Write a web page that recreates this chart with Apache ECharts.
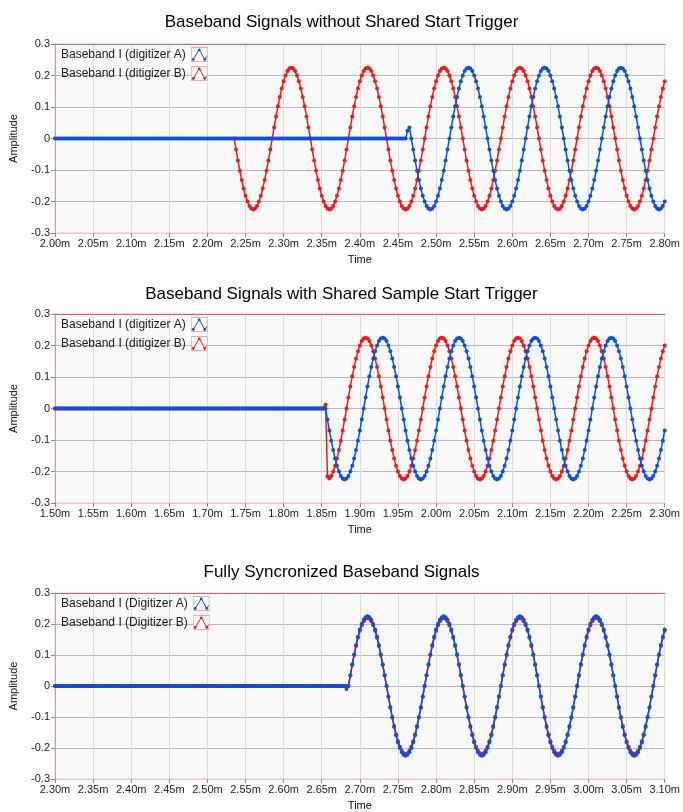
<!DOCTYPE html>
<html><head><meta charset="utf-8">
<script src="https://cdn.jsdelivr.net/npm/echarts@6/dist/echarts.min.js"></script>
<style>html,body{margin:0;padding:0;background:#fff}#c{width:683px;height:812px}</style>
</head><body><div id="c"></div><script>
// ---------- data ----------
const SAMPLE_STEP = 0.0025; // ms between samples
const titles = [
  'Baseband Signals without Shared Start Trigger',
  'Baseband Signals with Shared Sample Start Trigger',
  'Fully Syncronized Baseband Signals'
];
const namesA = ['Baseband I (digitizer A)', 'Baseband I (digitizer A)', 'Baseband I (Digitizer A)'];
const namesB = ['Baseband I (ditigizer B)', 'Baseband I (ditigizer B)', 'Baseband I (Digitizer B)'];
const xMins = [2.00, 1.50, 2.30];
const xMaxs = [2.80, 2.30, 3.10];
const xTickStep = 0.05;
const yTickStep = 0.1;
const yMin = -0.3, yMax = 0.3;

// Chart 1 - digitizer A : flat part from 2.00, wave from 2.4625
const c1AFlatStart = 2.00;
const c1AFlat = [
0,0,0,0,0,0,0,0,0,0, 0,0,0,0,0,0,0,0,0,0, 0,0,0,0,0,0,0,0,0,0, 0,0,0,0,0,0,0,0,0,0,
0,0,0,0,0,0,0,0,0,0, 0,0,0,0,0,0,0,0,0,0, 0,0,0,0,0,0,0,0,0,0, 0,0,0,0,0,0,0,0,0,0,
0,0,0,0,0,0,0,0,0,0, 0,0,0,0,0,0,0,0,0,0, 0,0,0,0,0,0,0,0,0,0, 0,0,0,0,0,0,0,0,0,0,
0,0,0,0,0,0,0,0,0,0, 0,0,0,0,0,0,0,0,0,0, 0,0,0,0,0,0,0,0,0,0, 0,0,0,0,0,0,0,0,0,0,
0,0,0,0,0,0,0,0,0,0, 0,0,0,0,0,0,0,0,0,0, 0,0,0,0,0
];
const c1AWaveStart = 2.4625;
const c1AWave = [
0.025, 0.035,
0, -0.035, -0.07, -0.102, -0.132, -0.159, -0.182, -0.2, -0.214, -0.222, -0.225, -0.222, -0.214, -0.2, -0.182, -0.159, -0.132, -0.102, -0.07, -0.035, 0, 0.035, 0.07, 0.102, 0.132, 0.159, 0.182, 0.2, 0.214, 0.222, 0.225, 0.222, 0.214, 0.2, 0.182, 0.159, 0.132, 0.102, 0.07, 0.035,
0, -0.035, -0.07, -0.102, -0.132, -0.159, -0.182, -0.2, -0.214, -0.222, -0.225, -0.222, -0.214, -0.2, -0.182, -0.159, -0.132, -0.102, -0.07, -0.035, 0, 0.035, 0.07, 0.102, 0.132, 0.159, 0.182, 0.2, 0.214, 0.222, 0.225, 0.222, 0.214, 0.2, 0.182, 0.159, 0.132, 0.102, 0.07, 0.035,
0, -0.035, -0.07, -0.102, -0.132, -0.159, -0.182, -0.2, -0.214, -0.222, -0.225, -0.222, -0.214, -0.2, -0.182, -0.159, -0.132, -0.102, -0.07, -0.035, 0, 0.035, 0.07, 0.102, 0.132, 0.159, 0.182, 0.2, 0.214, 0.222, 0.225, 0.222, 0.214, 0.2, 0.182, 0.159, 0.132, 0.102, 0.07, 0.035,
0, -0.035, -0.07, -0.102, -0.132, -0.159, -0.182, -0.2, -0.214, -0.222, -0.225, -0.222, -0.214, -0.2
];
// Chart 1 - digitizer B : wave from 2.235
const c1BWaveStart = 2.235;
const c1BWave = [
0, -0.035, -0.07, -0.102, -0.132, -0.159, -0.182, -0.2, -0.214, -0.222, -0.225, -0.222, -0.214, -0.2, -0.182, -0.159, -0.132, -0.102, -0.07, -0.035, 0, 0.035, 0.07, 0.102, 0.132, 0.159, 0.182, 0.2, 0.214, 0.222, 0.225, 0.222, 0.214, 0.2, 0.182, 0.159, 0.132, 0.102, 0.07, 0.035,
0, -0.035, -0.07, -0.102, -0.132, -0.159, -0.182, -0.2, -0.214, -0.222, -0.225, -0.222, -0.214, -0.2, -0.182, -0.159, -0.132, -0.102, -0.07, -0.035, 0, 0.035, 0.07, 0.102, 0.132, 0.159, 0.182, 0.2, 0.214, 0.222, 0.225, 0.222, 0.214, 0.2, 0.182, 0.159, 0.132, 0.102, 0.07, 0.035,
0, -0.035, -0.07, -0.102, -0.132, -0.159, -0.182, -0.2, -0.214, -0.222, -0.225, -0.222, -0.214, -0.2, -0.182, -0.159, -0.132, -0.102, -0.07, -0.035, 0, 0.035, 0.07, 0.102, 0.132, 0.159, 0.182, 0.2, 0.214, 0.222, 0.225, 0.222, 0.214, 0.2, 0.182, 0.159, 0.132, 0.102, 0.07, 0.035,
0, -0.035, -0.07, -0.102, -0.132, -0.159, -0.182, -0.2, -0.214, -0.222, -0.225, -0.222, -0.214, -0.2, -0.182, -0.159, -0.132, -0.102, -0.07, -0.035, 0, 0.035, 0.07, 0.102, 0.132, 0.159, 0.182, 0.2, 0.214, 0.222, 0.225, 0.222, 0.214, 0.2, 0.182, 0.159, 0.132, 0.102, 0.07, 0.035,
0, -0.035, -0.07, -0.102, -0.132, -0.159, -0.182, -0.2, -0.214, -0.222, -0.225, -0.222, -0.214, -0.2, -0.182, -0.159, -0.132, -0.102, -0.07, -0.035, 0, 0.035, 0.07, 0.102, 0.132, 0.159, 0.182, 0.2, 0.214, 0.222, 0.225, 0.222, 0.214, 0.2, 0.182, 0.159, 0.132, 0.102, 0.07, 0.035,
0, -0.035, -0.07, -0.102, -0.132, -0.159, -0.182, -0.2, -0.214, -0.222, -0.225, -0.222, -0.214, -0.2, -0.182, -0.159, -0.132, -0.102, -0.07, -0.035, 0, 0.035, 0.07, 0.102, 0.132, 0.159, 0.182
];

// Chart 2 - digitizer A : flat from 1.50, wave from 1.855
const c2AFlatStart = 1.50;
const c2AFlat = [
0,0,0,0,0,0,0,0,0,0, 0,0,0,0,0,0,0,0,0,0, 0,0,0,0,0,0,0,0,0,0, 0,0,0,0,0,0,0,0,0,0,
0,0,0,0,0,0,0,0,0,0, 0,0,0,0,0,0,0,0,0,0, 0,0,0,0,0,0,0,0,0,0, 0,0,0,0,0,0,0,0,0,0,
0,0,0,0,0,0,0,0,0,0, 0,0,0,0,0,0,0,0,0,0, 0,0,0,0,0,0,0,0,0,0, 0,0,0,0,0,0,0,0,0,0,
0,0,0,0,0,0,0,0,0,0, 0,0,0,0,0,0,0,0,0,0, 0,0
];
const c2AWaveStart = 1.855;
const c2AWave = [
0, -0.035, -0.07, -0.102, -0.132, -0.159, -0.182, -0.2, -0.214, -0.222, -0.225, -0.222, -0.214, -0.2, -0.182, -0.159, -0.132, -0.102, -0.07, -0.035, 0, 0.035, 0.07, 0.102, 0.132, 0.159, 0.182, 0.2, 0.214, 0.222, 0.225, 0.222, 0.214, 0.2, 0.182, 0.159, 0.132, 0.102, 0.07, 0.035,
0, -0.035, -0.07, -0.102, -0.132, -0.159, -0.182, -0.2, -0.214, -0.222, -0.225, -0.222, -0.214, -0.2, -0.182, -0.159, -0.132, -0.102, -0.07, -0.035, 0, 0.035, 0.07, 0.102, 0.132, 0.159, 0.182, 0.2, 0.214, 0.222, 0.225, 0.222, 0.214, 0.2, 0.182, 0.159, 0.132, 0.102, 0.07, 0.035,
0, -0.035, -0.07, -0.102, -0.132, -0.159, -0.182, -0.2, -0.214, -0.222, -0.225, -0.222, -0.214, -0.2, -0.182, -0.159, -0.132, -0.102, -0.07, -0.035, 0, 0.035, 0.07, 0.102, 0.132, 0.159, 0.182, 0.2, 0.214, 0.222, 0.225, 0.222, 0.214, 0.2, 0.182, 0.159, 0.132, 0.102, 0.07, 0.035,
0, -0.035, -0.07, -0.102, -0.132, -0.159, -0.182, -0.2, -0.214, -0.222, -0.225, -0.222, -0.214, -0.2, -0.182, -0.159, -0.132, -0.102, -0.07, -0.035, 0, 0.035, 0.07, 0.102, 0.132, 0.159, 0.182, 0.2, 0.214, 0.222, 0.225, 0.222, 0.214, 0.2, 0.182, 0.159, 0.132, 0.102, 0.07, 0.035,
0, -0.035, -0.07, -0.102, -0.132, -0.159, -0.182, -0.2, -0.214, -0.222, -0.225, -0.222, -0.214, -0.2, -0.182, -0.159, -0.132, -0.102, -0.07
];
// Chart 2 - digitizer B : flat from 1.50, wave from 1.855
const c2BFlatStart = 1.50;
const c2BFlat = [
0,0,0,0,0,0,0,0,0,0, 0,0,0,0,0,0,0,0,0,0, 0,0,0,0,0,0,0,0,0,0, 0,0,0,0,0,0,0,0,0,0,
0,0,0,0,0,0,0,0,0,0, 0,0,0,0,0,0,0,0,0,0, 0,0,0,0,0,0,0,0,0,0, 0,0,0,0,0,0,0,0,0,0,
0,0,0,0,0,0,0,0,0,0, 0,0,0,0,0,0,0,0,0,0, 0,0,0,0,0,0,0,0,0,0, 0,0,0,0,0,0,0,0,0,0,
0,0,0,0,0,0,0,0,0,0, 0,0,0,0,0,0,0,0,0,0, 0,0
];
const c2BWaveStart = 1.855;
const c2BWave = [
0.012, -0.215,
-0.222, -0.214, -0.2, -0.182, -0.159, -0.132, -0.102, -0.07, -0.035, 0, 0.035, 0.07, 0.102, 0.132, 0.159, 0.182, 0.2, 0.214, 0.222, 0.225, 0.222, 0.214, 0.2, 0.182, 0.159, 0.132, 0.102, 0.07, 0.035,
0, -0.035, -0.07, -0.102, -0.132, -0.159, -0.182, -0.2, -0.214, -0.222, -0.225, -0.222, -0.214, -0.2, -0.182, -0.159, -0.132, -0.102, -0.07, -0.035, 0, 0.035, 0.07, 0.102, 0.132, 0.159, 0.182, 0.2, 0.214, 0.222, 0.225, 0.222, 0.214, 0.2, 0.182, 0.159, 0.132, 0.102, 0.07, 0.035,
0, -0.035, -0.07, -0.102, -0.132, -0.159, -0.182, -0.2, -0.214, -0.222, -0.225, -0.222, -0.214, -0.2, -0.182, -0.159, -0.132, -0.102, -0.07, -0.035, 0, 0.035, 0.07, 0.102, 0.132, 0.159, 0.182, 0.2, 0.214, 0.222, 0.225, 0.222, 0.214, 0.2, 0.182, 0.159, 0.132, 0.102, 0.07, 0.035,
0, -0.035, -0.07, -0.102, -0.132, -0.159, -0.182, -0.2, -0.214, -0.222, -0.225, -0.222, -0.214, -0.2, -0.182, -0.159, -0.132, -0.102, -0.07, -0.035, 0, 0.035, 0.07, 0.102, 0.132, 0.159, 0.182, 0.2, 0.214, 0.222, 0.225, 0.222, 0.214, 0.2, 0.182, 0.159, 0.132, 0.102, 0.07, 0.035,
0, -0.035, -0.07, -0.102, -0.132, -0.159, -0.182, -0.2, -0.214, -0.222, -0.225, -0.222, -0.214, -0.2, -0.182, -0.159, -0.132, -0.102, -0.07, -0.035, 0, 0.035, 0.07, 0.102, 0.132, 0.159, 0.182, 0.2
];

// Chart 3 - digitizer A : flat from 2.30, wave from 2.6825
const c3AFlatStart = 2.30;
const c3AFlat = [
0,0,0,0,0,0,0,0,0,0, 0,0,0,0,0,0,0,0,0,0, 0,0,0,0,0,0,0,0,0,0, 0,0,0,0,0,0,0,0,0,0,
0,0,0,0,0,0,0,0,0,0, 0,0,0,0,0,0,0,0,0,0, 0,0,0,0,0,0,0,0,0,0, 0,0,0,0,0,0,0,0,0,0,
0,0,0,0,0,0,0,0,0,0, 0,0,0,0,0,0,0,0,0,0, 0,0,0,0,0,0,0,0,0,0, 0,0,0,0,0,0,0,0,0,0,
0,0,0,0,0,0,0,0,0,0, 0,0,0,0,0,0,0,0,0,0, 0,0,0,0,0,0,0,0,0,0, 0,0,0
];
const c3AWaveStart = 2.6825;
const c3AWave = [
-0.01,
0, 0.035, 0.07, 0.102, 0.132, 0.159, 0.182, 0.2, 0.214, 0.222, 0.225, 0.222, 0.214, 0.2, 0.182, 0.159, 0.132, 0.102, 0.07, 0.035,
0, -0.035, -0.07, -0.102, -0.132, -0.159, -0.182, -0.2, -0.214, -0.222, -0.225, -0.222, -0.214, -0.2, -0.182, -0.159, -0.132, -0.102, -0.07, -0.035, 0, 0.035, 0.07, 0.102, 0.132, 0.159, 0.182, 0.2, 0.214, 0.222, 0.225, 0.222, 0.214, 0.2, 0.182, 0.159, 0.132, 0.102, 0.07, 0.035,
0, -0.035, -0.07, -0.102, -0.132, -0.159, -0.182, -0.2, -0.214, -0.222, -0.225, -0.222, -0.214, -0.2, -0.182, -0.159, -0.132, -0.102, -0.07, -0.035, 0, 0.035, 0.07, 0.102, 0.132, 0.159, 0.182, 0.2, 0.214, 0.222, 0.225, 0.222, 0.214, 0.2, 0.182, 0.159, 0.132, 0.102, 0.07, 0.035,
0, -0.035, -0.07, -0.102, -0.132, -0.159, -0.182, -0.2, -0.214, -0.222, -0.225, -0.222, -0.214, -0.2, -0.182, -0.159, -0.132, -0.102, -0.07, -0.035, 0, 0.035, 0.07, 0.102, 0.132, 0.159, 0.182, 0.2, 0.214, 0.222, 0.225, 0.222, 0.214, 0.2, 0.182, 0.159, 0.132, 0.102, 0.07, 0.035,
0, -0.035, -0.07, -0.102, -0.132, -0.159, -0.182, -0.2, -0.214, -0.222, -0.225, -0.222, -0.214, -0.2, -0.182, -0.159, -0.132, -0.102, -0.07, -0.035, 0, 0.035, 0.07, 0.102, 0.132, 0.159, 0.182
];
// Chart 3 - digitizer B : flat from 2.30, wave from 2.685
const c3BFlatStart = 2.30;
const c3BFlat = [
0,0,0,0,0,0,0,0,0,0, 0,0,0,0,0,0,0,0,0,0, 0,0,0,0,0,0,0,0,0,0, 0,0,0,0,0,0,0,0,0,0,
0,0,0,0,0,0,0,0,0,0, 0,0,0,0,0,0,0,0,0,0, 0,0,0,0,0,0,0,0,0,0, 0,0,0,0,0,0,0,0,0,0,
0,0,0,0,0,0,0,0,0,0, 0,0,0,0,0,0,0,0,0,0, 0,0,0,0,0,0,0,0,0,0, 0,0,0,0,0,0,0,0,0,0,
0,0,0,0,0,0,0,0,0,0, 0,0,0,0,0,0,0,0,0,0, 0,0,0,0,0,0,0,0,0,0, 0,0,0,0
];
const c3BWaveStart = 2.685;
const c3BWave = [
0, 0.034, 0.068, 0.1, 0.129, 0.156, 0.178, 0.196, 0.209, 0.217, 0.22, 0.217, 0.209, 0.196, 0.178, 0.156, 0.129, 0.1, 0.068, 0.034,
0, -0.034, -0.068, -0.1, -0.129, -0.156, -0.178, -0.196, -0.209, -0.217, -0.22, -0.217, -0.209, -0.196, -0.178, -0.156, -0.129, -0.1, -0.068, -0.034, 0, 0.034, 0.068, 0.1, 0.129, 0.156, 0.178, 0.196, 0.209, 0.217, 0.22, 0.217, 0.209, 0.196, 0.178, 0.156, 0.129, 0.1, 0.068, 0.034,
0, -0.034, -0.068, -0.1, -0.129, -0.156, -0.178, -0.196, -0.209, -0.217, -0.22, -0.217, -0.209, -0.196, -0.178, -0.156, -0.129, -0.1, -0.068, -0.034, 0, 0.034, 0.068, 0.1, 0.129, 0.156, 0.178, 0.196, 0.209, 0.217, 0.22, 0.217, 0.209, 0.196, 0.178, 0.156, 0.129, 0.1, 0.068, 0.034,
0, -0.034, -0.068, -0.1, -0.129, -0.156, -0.178, -0.196, -0.209, -0.217, -0.22, -0.217, -0.209, -0.196, -0.178, -0.156, -0.129, -0.1, -0.068, -0.034, 0, 0.034, 0.068, 0.1, 0.129, 0.156, 0.178, 0.196, 0.209, 0.217, 0.22, 0.217, 0.209, 0.196, 0.178, 0.156, 0.129, 0.1, 0.068, 0.034,
0, -0.034, -0.068, -0.1, -0.129, -0.156, -0.178, -0.196, -0.209, -0.217, -0.22, -0.217, -0.209, -0.196, -0.178, -0.156, -0.129, -0.1, -0.068, -0.034, 0, 0.034, 0.068, 0.1, 0.129, 0.156, 0.178
];

// ---------- build ----------
const BLUE = '#0b4fe3', RED = '#f51616';
const FONT = '"Liberation Sans", Arial, sans-serif';

function samples(t0, values) {
  return values.map((v, i) => [Number((t0 + i * SAMPLE_STEP).toFixed(4)), v]);
}
const seriesA = [
  samples(c1AFlatStart, c1AFlat).concat(samples(c1AWaveStart, c1AWave)),
  samples(c2AFlatStart, c2AFlat).concat(samples(c2AWaveStart, c2AWave)),
  samples(c3AFlatStart, c3AFlat).concat(samples(c3AWaveStart, c3AWave))
];
const seriesB = [
  samples(c1BWaveStart, c1BWave),
  samples(c2BFlatStart, c2BFlat).concat(samples(c2BWaveStart, c2BWave)),
  samples(c3BFlatStart, c3BFlat).concat(samples(c3BWaveStart, c3BWave))
];

function icon(color) {
  const svg = '<svg xmlns="http://www.w3.org/2000/svg" width="17" height="15" viewBox="0 0 17 15">' +
    '<rect x="0.5" y="0.5" width="16" height="14" fill="#ffffff" stroke="#eea6a6" stroke-width="1"/>' +
    '<polyline points="2.5,12.5 8.5,2.5 14,12.5 16,9.5" fill="none" stroke="' + color + '" stroke-width="1"/>' +
    '<circle cx="2.5" cy="12.5" r="1.4" fill="' + color + '"/>' +
    '<circle cx="8.5" cy="2.8" r="1.4" fill="' + color + '"/>' +
    '<circle cx="14" cy="12.5" r="1.4" fill="' + color + '"/></svg>';
  return 'image://data:image/svg+xml;charset=utf-8,' + encodeURIComponent(svg);
}

const gridTops = [44, 314, 593];
const gridRights = [18, 17, 18];
const titleTops = [9, 281, 559];
const option = {
  animation: false,
  backgroundColor: '#ffffff',
  title: [], legend: [], grid: [], xAxis: [], yAxis: [], series: []
};
for (let i = 0; i < 3; i++) {
  option.title.push({
    text: titles[i], left: 'center', top: titleTops[i],
    textStyle: { fontFamily: FONT, fontSize: 17, fontWeight: 'normal', color: '#000' }
  });
  option.grid.push({
    left: 52, right: gridRights[i], top: gridTops[i], height: 189,
    show: true, backgroundColor: '#f9f9f9', borderColor: '#f6c2c2', borderWidth: 1
  });
  option.legend.push({
    orient: 'vertical', left: 61, top: gridTops[i] + 3, padding: 0,
    align: 'right', itemWidth: 17, itemHeight: 15, itemGap: 4, itemTextGap: 8,
    textStyle: { fontFamily: FONT, fontSize: 12, color: '#1a1a1a' },
    data: [{ name: namesA[i], icon: icon(BLUE) }, { name: namesB[i], icon: icon(RED) }]
  });
  option.xAxis.push({
    type: 'value', gridIndex: i, min: xMins[i], max: xMaxs[i], interval: xTickStep,
    name: 'Time', nameLocation: 'middle', nameGap: 21,
    nameTextStyle: { fontFamily: FONT, fontSize: 11, color: '#111' },
    axisLine: { show: true, onZero: false, lineStyle: { color: '#f6c2c2' } },
    axisTick: { show: true, length: 4, lineStyle: { color: '#888' } },
    axisLabel: { fontFamily: FONT, fontSize: 11, color: '#222', margin: 5,
      formatter: v => v.toFixed(2) + 'm' },
    splitLine: { show: true, lineStyle: { color: '#dddddd', width: 1 } }
  });
  option.yAxis.push({
    type: 'value', gridIndex: i, min: yMin, max: yMax, interval: yTickStep,
    name: 'Amplitude', nameLocation: 'middle', nameGap: 36, nameRotate: 90,
    nameTextStyle: { fontFamily: FONT, fontSize: 11, color: '#111' },
    axisLine: { show: true, onZero: false, lineStyle: { color: '#d99a9a' } },
    axisTick: { show: true, length: 4, lineStyle: { color: '#888' } },
    axisLabel: { fontFamily: FONT, fontSize: 11, color: '#222', margin: 5,
      formatter: v => { const r = Math.round(v * 10) / 10; return r === 0 ? '0' : r.toFixed(1); } },
    splitLine: { show: true, lineStyle: { color: '#b8b8b8', width: 1 } }
  });
}
// top border line of each plot (darker red)
for (let i = 0; i < 3; i++) {
  option.xAxis.push({
    type: 'value', gridIndex: i, position: 'top', min: xMins[i], max: xMaxs[i], interval: xTickStep,
    axisLine: { show: true, onZero: false, lineStyle: { color: '#c46a6a' } },
    axisTick: { show: false }, axisLabel: { show: false }, splitLine: { show: false }
  });
}
for (let i = 0; i < 3; i++) {
  const common = {
    type: 'line', xAxisIndex: i, yAxisIndex: i, symbol: 'circle', symbolSize: 4,
    showAllSymbol: true, clip: true, emphasis: { disabled: true }
  };
  option.series.push(Object.assign({}, common, {
    name: namesB[i], data: seriesB[i], z: 2,
    lineStyle: { width: 1.5, color: RED }, itemStyle: { color: RED }
  }));
  option.series.push(Object.assign({}, common, {
    name: namesA[i], data: seriesA[i], z: 3,
    lineStyle: { width: 1.5, color: BLUE }, itemStyle: { color: BLUE }
  }));
}
const chart = echarts.init(document.getElementById('c'), null, { renderer: 'canvas' });
chart.setOption(option);
</script></body></html>
